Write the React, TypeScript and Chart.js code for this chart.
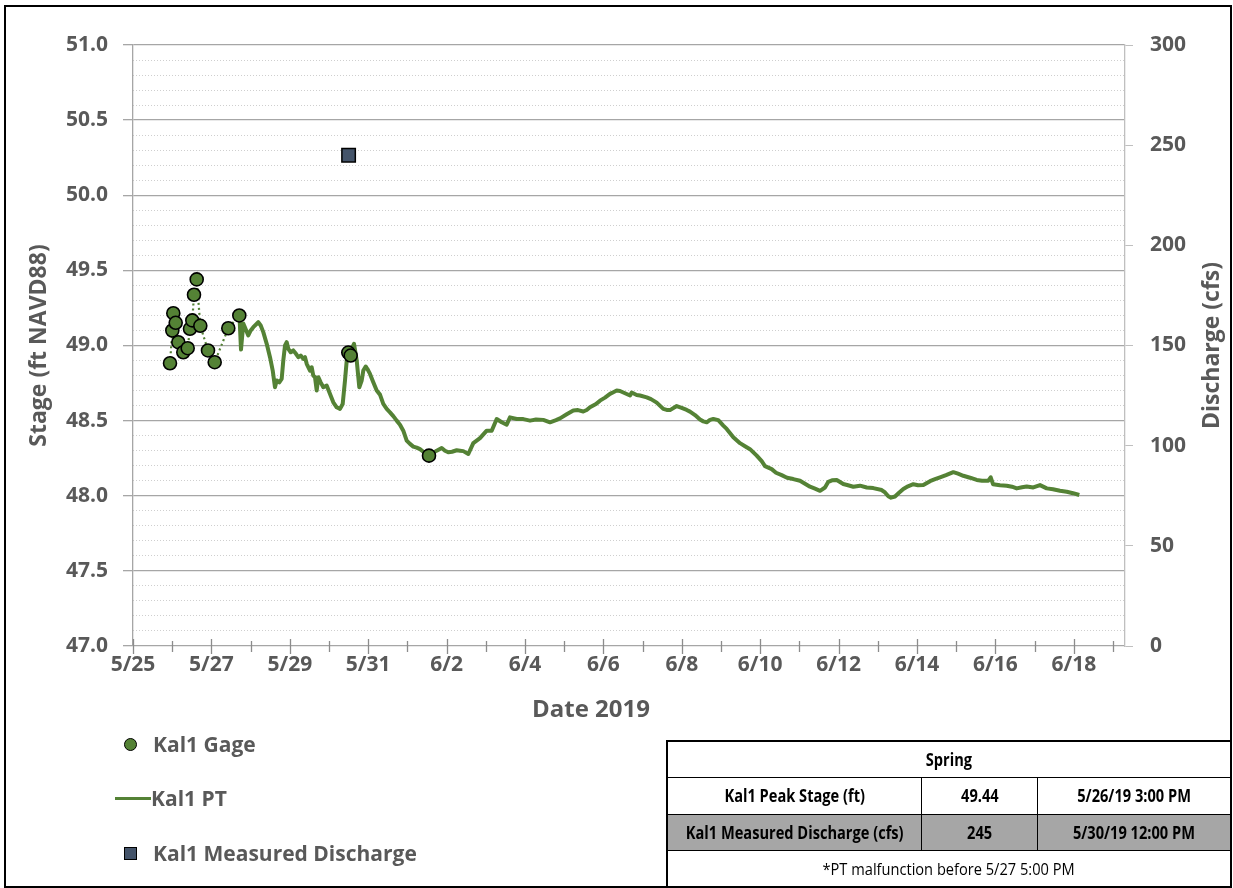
import React, { useEffect, useRef } from 'react';
import { Chart, registerables } from 'chart.js';

Chart.register(...registerables);

// ---------- data (x = days after 5/25/2019 00:00) ----------
const xTickLabels = ['5/25', '5/27', '5/29', '5/31', '6/2', '6/4', '6/6', '6/8', '6/10', '6/12', '6/14', '6/16', '6/18'];

const seriesNames = ['Kal1 Gage', 'Kal1 PT', 'Kal1 Measured Discharge'];

const gageDays = [0.944, 1.003, 1.028, 1.089, 1.156, 1.283, 1.395, 1.454, 1.513, 1.556, 1.625, 1.717, 1.913, 2.084, 2.431, 2.712, 5.492, 5.553, 7.551];
const gageStage = [48.882, 49.10, 49.215, 49.151, 49.022, 48.955, 48.982, 49.111, 49.167, 49.338, 49.44, 49.131, 48.967, 48.889, 49.115, 49.20, 48.953, 48.933, 48.267];

const ptDays = [
  2.717, 2.755, 2.814, 2.857, 2.941, 3.003, 3.069, 3.196, 3.258, 3.324,
  3.411, 3.495, 3.564, 3.622, 3.666, 3.732, 3.793, 3.834, 3.878, 3.921,
  3.962, 4.023, 4.089, 4.158, 4.217, 4.278, 4.344, 4.388, 4.431, 4.515,
  4.559, 4.599, 4.643, 4.686, 4.727, 4.788, 4.855, 4.941, 5.026, 5.110,
  5.196, 5.281, 5.349, 5.408, 5.452, 5.492, 5.579, 5.638, 5.707, 5.773,
  5.834, 5.875, 5.936, 5.977, 6.046, 6.130, 6.217, 6.301, 6.385, 6.472,
  6.556, 6.640, 6.727, 6.811, 6.895, 6.982, 7.066, 7.150, 7.237, 7.321,
  7.406, 7.500, 7.551, 7.628, 7.747, 7.875, 7.959, 8.043, 8.138, 8.258,
  8.342, 8.426, 8.554, 8.681, 8.852, 9.023, 9.151, 9.278, 9.406, 9.533,
  9.617, 9.788, 9.957, 10.128, 10.281, 10.467, 10.638, 10.791, 10.893, 11.064,
  11.232, 11.352, 11.487, 11.574, 11.658, 11.811, 11.913, 12.041, 12.168, 12.253,
  12.339, 12.423, 12.551, 12.679, 12.722, 12.849, 12.934, 13.105, 13.214, 13.360,
  13.528, 13.615, 13.699, 13.870, 13.997, 14.125, 14.209, 14.337, 14.464, 14.548,
  14.635, 14.719, 14.804, 14.931, 15.059, 15.145, 15.314, 15.485, 15.612, 15.740,
  15.911, 16.038, 16.122, 16.293, 16.403, 16.548, 16.684, 16.844, 17.015, 17.143,
  17.270, 17.398, 17.526, 17.653, 17.737, 17.832, 17.952, 18.120, 18.240, 18.375,
  18.546, 18.717, 18.885, 19.099, 19.184, 19.268, 19.337, 19.439, 19.541, 19.651,
  19.770, 19.906, 20.026, 20.161, 20.332, 20.459, 20.587, 20.740, 20.926, 21.046,
  21.181, 21.352, 21.523, 21.658, 21.819, 21.880, 21.939, 22.117, 22.288, 22.423,
  22.543, 22.679, 22.798, 22.967, 23.138, 23.309, 23.469, 23.648, 23.819, 23.980,
  24.140,
];
const ptStage = [
  49.193, 48.973, 49.147, 49.12, 49.067, 49.10, 49.122, 49.155, 49.133, 49.089,
  49.011, 48.922, 48.833, 48.722, 48.767, 48.755, 48.778, 48.90, 49.00, 49.022,
  48.978, 48.955, 48.967, 48.945, 48.922, 48.933, 48.911, 48.922, 48.878, 48.833,
  48.855, 48.80, 48.789, 48.70, 48.789, 48.755, 48.722, 48.733, 48.678, 48.622,
  48.589, 48.578, 48.611, 48.767, 48.90, 48.967, 48.978, 49.011, 48.90, 48.722,
  48.767, 48.833, 48.86, 48.845, 48.811, 48.755, 48.70, 48.673, 48.611, 48.578,
  48.555, 48.53, 48.50, 48.473, 48.433, 48.367, 48.345, 48.327, 48.32, 48.31,
  48.293, 48.273, 48.263, 48.28, 48.30, 48.318, 48.30, 48.289, 48.293, 48.303,
  48.30, 48.297, 48.278, 48.35, 48.383, 48.433, 48.433, 48.511, 48.489, 48.473,
  48.522, 48.511, 48.51, 48.50, 48.507, 48.505, 48.489, 48.503, 48.515, 48.542,
  48.567, 48.57, 48.561, 48.571, 48.589, 48.61, 48.633, 48.653, 48.678, 48.689,
  48.70, 48.697, 48.682, 48.667, 48.687, 48.671, 48.667, 48.655, 48.643, 48.62,
  48.578, 48.571, 48.57, 48.597, 48.585, 48.571, 48.56, 48.537, 48.507, 48.495,
  48.489, 48.505, 48.511, 48.503, 48.467, 48.445, 48.39, 48.35, 48.33, 48.31,
  48.267, 48.23, 48.197, 48.177, 48.153, 48.137, 48.12, 48.111, 48.10, 48.08,
  48.06, 48.047, 48.033, 48.055, 48.093, 48.103, 48.105, 48.078, 48.07, 48.06,
  48.067, 48.055, 48.051, 48.038, 48.022, 47.997, 47.987, 47.995, 48.02, 48.045,
  48.063, 48.077, 48.07, 48.071, 48.097, 48.11, 48.122, 48.137, 48.157, 48.147,
  48.133, 48.12, 48.105, 48.10, 48.10, 48.123, 48.077, 48.07, 48.067, 48.06,
  48.049, 48.057, 48.062, 48.055, 48.071, 48.049, 48.043, 48.033, 48.027, 48.017,
  48.005,
];

const dischargeDays = [5.5];
const dischargeCfs = [245];

const tableTitle = 'Spring';
const tableRows = [
  ['Kal1 Peak Stage (ft)', '49.44', '5/26/19 3:00 PM'],
  ['Kal1 Measured Discharge (cfs)', '245', '5/30/19 12:00 PM'],
];
const tableNote = '*PT malfunction before 5/27 5:00 PM';

// ---------- style ----------
const W = 1233;
const H = 888;
const X_MAX = 25.306;
const GREEN = '#548235';
const SLATE = '#44546a';
const TEXT = '#595959';
const FONT = "'Open Sans', 'Noto Sans', sans-serif";
const TICK_FONT = { family: FONT, size: 21, weight: 'bold' as const };
const TITLE_FONT = { family: FONT, size: 23, weight: 'bold' as const };

const pairs = (xs: number[], ys: number[]) => xs.map((x, i) => ({ x, y: ys[i] }));

const tickMarks = {
  id: 'tickMarks',
  beforeDatasetsDraw(chart: any) {
    const xs = chart.scales.x;
    const ctx = chart.ctx;
    const y0 = chart.chartArea.bottom;
    ctx.save();
    ctx.strokeStyle = '#8c8c8c';
    ctx.lineWidth = 1.3;
    for (let d = 0; d <= Math.floor(X_MAX); d++) {
      const px = Math.round(xs.getPixelForValue(d)) + 0.5;
      const major = d % 2 === 0;
      ctx.beginPath();
      ctx.moveTo(px, y0 - (major ? 7 : 5));
      ctx.lineTo(px, y0 + (major ? 8 : 6));
      ctx.stroke();
    }
    ctx.restore();
  },
};

const titlePatch = {
  id: 'titlePatch',
  afterLayout(chart: any) {
    const xs = chart.scales.x;
    if (xs && !xs.__patched) {
      xs.__patched = true;
      const orig = xs.drawTitle;
      xs.drawTitle = function () {
        this.ctx.save();
        this.ctx.translate(-38, 0);
        orig.call(this);
        this.ctx.restore();
      };
    }
    const ys = chart.scales.y2;
    if (ys && !ys.__patched) {
      ys.__patched = true;
      ys.drawTitle = function () {
        const ctx = this.ctx;
        const t = this.options.title;
        ctx.save();
        ctx.translate(this.right - 7 - (TITLE_FONT.size * 1.2) / 2, (this.top + this.bottom) / 2);
        ctx.rotate(-Math.PI / 2);
        ctx.font = `bold ${TITLE_FONT.size}px ${FONT}`;
        ctx.fillStyle = TEXT;
        ctx.textAlign = 'center';
        ctx.textBaseline = 'middle';
        ctx.fillText(t.text, 0, 0);
        ctx.restore();
      };
    }
  },
};

export default function App() {
  const ref = useRef<HTMLCanvasElement>(null);

  useEffect(() => {
    if (!ref.current) return;
    const chart = new Chart(ref.current, {
      type: 'scatter',
      data: {
        datasets: [
          {
            label: seriesNames[0],
            data: pairs(gageDays, gageStage),
            yAxisID: 'y',
            showLine: true,
            borderColor: GREEN,
            borderWidth: 2.2,
            borderDash: [2, 3],
            pointRadius: 6.5,
            pointBackgroundColor: GREEN,
            pointBorderColor: '#000',
            pointBorderWidth: 1.6,
            segment: {
              borderColor: (c: any) => (c.p1.parsed.x - c.p0.parsed.x > 1 ? 'rgba(0,0,0,0)' : undefined),
            },
          } as any,
          {
            label: seriesNames[2],
            data: pairs(dischargeDays, dischargeCfs),
            yAxisID: 'y2',
            showLine: false,
            pointStyle: 'rect',
            pointRadius: 9.5,
            pointBackgroundColor: SLATE,
            pointBorderColor: '#000',
            pointBorderWidth: 1.5,
          } as any,
          {
            label: seriesNames[1],
            data: pairs(ptDays, ptStage),
            yAxisID: 'y',
            showLine: true,
            borderColor: GREEN,
            borderWidth: 4,
            borderJoinStyle: 'round',
            pointRadius: 0,
            tension: 0,
          } as any,
        ],
      },
      options: {
        responsive: false,
        animation: false,
        events: [],
        layout: { padding: { top: 45, left: 0, right: 0, bottom: 152 } },
        plugins: { legend: { display: false }, tooltip: { enabled: false } },
        scales: {
          x: {
            type: 'linear',
            position: 'bottom',
            min: 0,
            max: X_MAX,
            afterFit: (s: any) => { s.height = 90; },
            grid: { display: false, drawTicks: false },
            border: { display: false },
            ticks: {
              stepSize: 1,
              includeBounds: false,
              autoSkip: false,
              maxRotation: 0,
              minRotation: 0,
              maxTicksLimit: 1000,
              padding: 6,
              color: TEXT,
              font: TICK_FONT,
              callback: (v: any) => {
                const d = Math.round(Number(v));
                if (Math.abs(Number(v) - d) > 1e-6 || d % 2 !== 0) return '';
                return xTickLabels[d / 2] ?? '';
              },
            },
            title: {
              display: true,
              text: 'Date 2019',
              color: TEXT,
              font: { family: FONT, size: 24, weight: 'bold' },
              padding: { top: 0, bottom: 11 },
            },
          },
          yMinor: {
            type: 'linear',
            position: 'left',
            min: 47,
            max: 51,
            afterFit: (s: any) => { s.width = 0; },
            ticks: { display: false, stepSize: 0.1, maxTicksLimit: 1000 },
            grid: {
              drawTicks: false,
              lineWidth: 1,
              color: (c: any) => {
                const v = c.tick ? c.tick.value : 0;
                return Math.abs(v * 2 - Math.round(v * 2)) < 1e-6 ? 'rgba(0,0,0,0)' : '#cfcfcf';
              },
            },
            border: { display: false, dash: [1, 2] },
          },
          y: {
            type: 'linear',
            position: 'left',
            min: 47,
            max: 51,
            afterFit: (s: any) => { s.width = 133; },
            ticks: {
              stepSize: 0.5,
              padding: 15,
              color: TEXT,
              font: TICK_FONT,
              callback: (v: any) => Number(v).toFixed(1),
            },
            grid: { color: '#a6a6a6', lineWidth: 1.3, tickLength: 10, tickColor: '#a6a6a6', drawTicks: true },
            border: { display: true, color: '#a6a6a6', width: 1.3 },
            title: {
              display: true,
              text: 'Stage (ft NAVD88)',
              color: TEXT,
              font: TITLE_FONT,
              padding: { top: 26, bottom: 0 },
            },
          },
          y2: {
            type: 'linear',
            position: 'right',
            min: 0,
            max: 300,
            afterFit: (s: any) => { s.width = 108; },
            ticks: {
              stepSize: 50,
              padding: 17,
              color: TEXT,
              font: TICK_FONT,
              callback: (v: any) => String(v),
            },
            grid: { drawOnChartArea: false, drawTicks: true, tickLength: 8, color: '#bfbfbf', tickColor: '#bfbfbf' },
            border: { display: true, color: '#bfbfbf', width: 1.3 },
            title: {
              display: true,
              text: 'Discharge (cfs)',
              color: TEXT,
              font: TITLE_FONT,
              padding: { top: 7, bottom: 0 },
            },
          },
        },
      } as any,
      plugins: [tickMarks, titlePatch],
    });
    return () => chart.destroy();
  }, []);

  const legendText: React.CSSProperties = {
    position: 'absolute',
    left: 153,
    fontFamily: FONT,
    fontWeight: 700,
    fontSize: 21,
    lineHeight: '28px',
    color: TEXT,
    whiteSpace: 'nowrap',
  };

  const cellBase: React.CSSProperties = {
    display: 'flex',
    alignItems: 'center',
    justifyContent: 'center',
    fontFamily: FONT,
    fontSize: 17,
    fontWeight: 700,
    color: '#000',
    whiteSpace: 'nowrap',
    boxSizing: 'border-box',
    overflow: 'visible',
  };
  const narrow: React.CSSProperties = { display: 'inline-block', transform: 'scaleX(0.86)' };
  const colW = [254, 116];

  return (
    <div style={{ position: 'absolute', left: 0, top: 0, width: W, height: H, background: '#fff', overflow: 'hidden' }}>
      <canvas ref={ref} width={W} height={H} style={{ position: 'absolute', left: 0, top: 0, width: W, height: H }} />
      <div style={{ position: 'absolute', left: 4, top: 5, width: 1228, height: 883, border: '2px solid #000', boxSizing: 'border-box', pointerEvents: 'none' }} />

      {/* legend */}
      <div style={{ position: 'absolute', left: 124, top: 738, width: 13, height: 13, borderRadius: '50%', background: GREEN, border: '1.6px solid #000', boxSizing: 'border-box' }} />
      <div style={{ ...legendText, top: 730 }}>{seriesNames[0]}</div>
      <div style={{ position: 'absolute', left: 115, top: 797, width: 36, height: 3, background: GREEN }} />
      <div style={{ ...legendText, left: 151, top: 784 }}>{seriesNames[1]}</div>
      <div style={{ position: 'absolute', left: 124, top: 847, width: 13, height: 13, background: SLATE, border: '1.6px solid #000', boxSizing: 'border-box' }} />
      <div style={{ ...legendText, top: 839 }}>{seriesNames[2]}</div>

      {/* table */}
      <div style={{ position: 'absolute', left: 666, top: 740, width: 566, height: 148, border: '2px solid #000', boxSizing: 'border-box', display: 'flex', flexDirection: 'column', background: '#fff' }}>
        <div style={{ ...cellBase, flex: 1 }}><span style={narrow}>{tableTitle}</span></div>
        {tableRows.map((r, i) => (
          <div key={i} style={{ flex: 1, display: 'flex', borderTop: '1.5px solid #000', background: i === 1 ? '#a6a6a6' : '#fff' }}>
            <div style={{ ...cellBase, width: colW[0], borderRight: '1.5px solid #000' }}><span style={narrow}>{r[0]}</span></div>
            <div style={{ ...cellBase, width: colW[1], borderRight: '1.5px solid #000' }}><span style={narrow}>{r[1]}</span></div>
            <div style={{ ...cellBase, flex: 1 }}><span style={narrow}>{r[2]}</span></div>
          </div>
        ))}
        <div style={{ ...cellBase, flex: 1, fontWeight: 400, borderTop: '1.5px solid #000' }}><span style={narrow}>{tableNote}</span></div>
      </div>
    </div>
  );
}
